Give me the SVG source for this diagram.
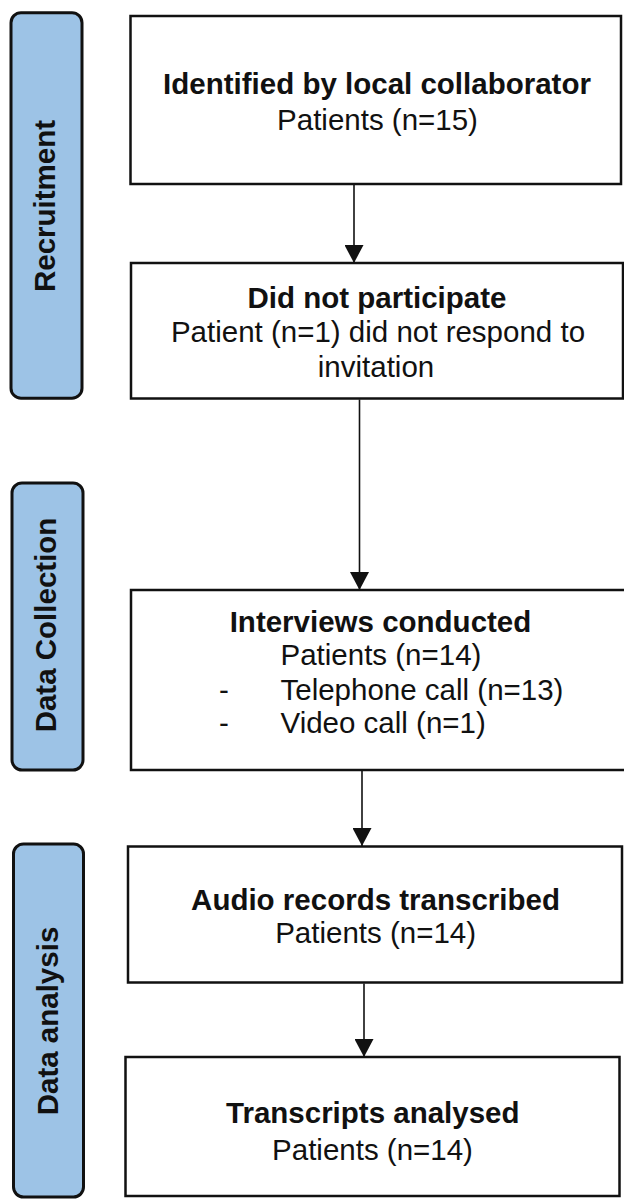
<svg xmlns="http://www.w3.org/2000/svg" width="624" height="1199" viewBox="0 0 624 1199">
<style>
.side{fill:#9DC3E6;stroke:#111;stroke-width:3}
.box{fill:#fff;stroke:#111;stroke-width:2.5}
.t{font-family:"Liberation Sans",Arial,sans-serif;font-size:29.5px;fill:#111}
.b{font-weight:bold}
.c{text-anchor:middle}
.conn{stroke:#111;stroke-width:1.6;fill:none}
</style>
<defs>
<marker id="ah" markerUnits="userSpaceOnUse" markerWidth="20" markerHeight="19" refX="18" refY="9.5" orient="auto">
<path d="M0,0 L18,9.5 L0,19 Z" fill="#111"/>
</marker>
</defs>
<rect width="624" height="1199" fill="#fff"/>
<g id="stage-recruitment">
<rect class="side" x="11" y="12.7" width="71" height="385.5" rx="10"/>
<text class="t b c" transform="translate(55,206) rotate(-90)">Recruitment</text>
</g>
<g id="stage-data-collection">
<rect class="side" x="12" y="483" width="71" height="287" rx="10"/>
<text class="t b c" transform="translate(55.5,625) rotate(-90)">Data Collection</text>
</g>
<g id="stage-data-analysis">
<rect class="side" x="13.5" y="844" width="70" height="353" rx="10"/>
<text class="t b c" transform="translate(58,1021) rotate(-90)">Data analysis</text>
</g>
<g id="connectors">
<line class="conn" x1="354" y1="185" x2="354" y2="263" marker-end="url(#ah)"/>
<line class="conn" x1="359.5" y1="399.5" x2="359.5" y2="590" marker-end="url(#ah)"/>
<line class="conn" x1="362" y1="771" x2="362" y2="846" marker-end="url(#ah)"/>
<line class="conn" x1="364" y1="983.5" x2="364" y2="1057" marker-end="url(#ah)"/>
</g>
<g id="node-identified">
<rect class="box" x="130.5" y="16" width="490.5" height="168"/>
<text class="t b c" x="377" y="94">Identified by local collaborator</text>
<text class="t c" x="377.5" y="130">Patients (n=15)</text>
</g>
<g id="node-did-not-participate">
<rect class="box" x="131" y="263" width="492" height="135.5"/>
<text class="t b c" x="377" y="308">Did not participate</text>
<text class="t c" x="378" y="342">Patient (n=1) did not respond to</text>
<text class="t c" x="376" y="377">invitation</text>
</g>
<g id="node-interviews">
<rect class="box" x="131" y="590" width="496" height="180"/>
<text class="t b c" x="380.5" y="632">Interviews conducted</text>
<text class="t" x="280.5" y="665">Patients (n=14)</text>
<text class="t" x="219" y="700">-</text>
<text class="t" x="280.5" y="700">Telephone call (n=13)</text>
<text class="t" x="219" y="733">-</text>
<text class="t" x="280.5" y="733">Video call (n=1)</text>
</g>
<g id="node-audio">
<rect class="box" x="128" y="846.5" width="494" height="136"/>
<text class="t b c" x="375.5" y="910">Audio records transcribed</text>
<text class="t c" x="375.6" y="942.7">Patients (n=14)</text>
</g>
<g id="node-transcripts">
<rect class="box" x="125.5" y="1057" width="494" height="139"/>
<text class="t b c" x="372.8" y="1123">Transcripts analysed</text>
<text class="t c" x="372.5" y="1160">Patients (n=14)</text>
</g>
</svg>
